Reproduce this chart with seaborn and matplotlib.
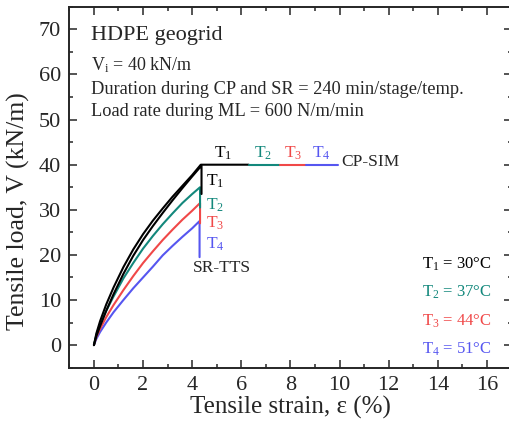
import matplotlib
matplotlib.use("Agg")
import matplotlib.pyplot as plt
import seaborn as sns
import pandas as pd
from matplotlib.ticker import MultipleLocator

# ---- data -------------------------------------------------------------
temps = ["T1", "T2", "T3", "T4"]
temp_values = [30, 37, 44, 51]
colors = ["#000000", "#13887c", "#f04848", "#5656f0"]

# CP-SIM: loading at T1 up to V_i, then creep holds at each temperature
cp_strain = [0.0, 0.1, 0.25, 0.5, 0.8, 1.2, 1.6, 2.0, 2.4, 2.8, 3.2, 3.6, 4.0, 4.35, 6.3]
cp_load = [0.0, 2.6, 5.3, 9.0, 12.8, 17.3, 21.2, 24.6, 27.6, 30.3, 32.9, 35.3, 37.7, 40.0, 40.0]
hold_strain_edges = [6.3, 7.56, 8.65, 9.93]
hold_load = 40.0

# SR-TTS: loading at each temperature followed by stress relaxation
sr_strain_t1 = [0.0, 0.1, 0.25, 0.5, 0.8, 1.2, 1.6, 2.0, 2.4, 2.8, 3.2, 3.6, 4.0, 4.38, 4.38]
sr_load_t1 = [0.0, 2.0, 4.2, 7.6, 11.3, 15.8, 19.8, 23.3, 26.4, 29.3, 32.1, 34.8, 37.4, 39.8, 33.5]
sr_strain_t2 = [0.0, 0.1, 0.25, 0.5, 0.8, 1.2, 1.6, 2.0, 2.4, 2.8, 3.2, 3.6, 4.0, 4.32, 4.32]
sr_load_t2 = [0.0, 2.3, 4.6, 7.6, 10.8, 14.8, 18.2, 21.4, 24.2, 26.8, 29.2, 31.5, 33.5, 35.0, 30.5]
sr_strain_t3 = [0.0, 0.1, 0.25, 0.5, 0.8, 1.2, 1.6, 2.0, 2.4, 2.8, 3.2, 3.6, 4.0, 4.32, 4.32]
sr_load_t3 = [0.0, 1.8, 3.6, 6.2, 8.9, 12.2, 15.3, 18.2, 20.8, 23.3, 25.6, 27.8, 29.8, 31.5, 27.0]
sr_strain_t4 = [0.0, 0.1, 0.25, 0.5, 0.8, 1.2, 1.6, 2.0, 2.4, 2.8, 3.2, 3.6, 4.0, 4.3, 4.3]
sr_load_t4 = [0.0, 1.4, 2.9, 5.0, 7.3, 10.0, 12.6, 15.0, 17.4, 19.9, 22.0, 24.0, 25.9, 27.5, 19.5]

# ---- style ------------------------------------------------------------
sns.set_theme(style="ticks")
plt.rcParams["font.family"] = ["Liberation Serif", "DejaVu Serif"]
plt.rcParams["mathtext.fontset"] = "custom"
plt.rcParams["mathtext.rm"] = "Liberation Serif"
plt.rcParams["mathtext.it"] = "Liberation Serif:italic"
plt.rcParams["axes.linewidth"] = 1.4

fig = plt.figure(figsize=(5.10, 4.28), dpi=100)
ax = fig.add_axes([0.136, 0.141, 0.867, 0.843])

lw = 1.5

def draw(xs, ys, color):
    df = pd.DataFrame({"x": xs, "y": ys})
    sns.lineplot(data=df, x="x", y="y", ax=ax, color=color, lw=lw,
                 sort=False, estimator=None)

draw(sr_strain_t4, sr_load_t4, colors[3])
draw(sr_strain_t3, sr_load_t3, colors[2])
draw(sr_strain_t2, sr_load_t2, colors[1])
draw(sr_strain_t1, sr_load_t1, colors[0])
draw(cp_strain, cp_load, colors[0])
for i in range(3):
    draw(hold_strain_edges[i:i + 2], [hold_load, hold_load], colors[i + 1])

# ---- annotations ------------------------------------------------------
def sub(t):
    return "T$_\\mathregular{%s}$" % t[1:]

fs_lab = 12.5
cp_label_x = [5.27, 6.9, 8.1, 9.25]
for t, c, x in zip(temps, colors, cp_label_x):
    ax.text(x, 42.6, sub(t), color=c, fontsize=fs_lab, ha="center", va="center")
ax.text(10.05, 40.6, "CP-SIM", fontsize=12.5, ha="left", va="center")

sr_label_y = [36.4, 30.9, 26.9, 22.3]
for t, c, y in zip(temps, colors, sr_label_y):
    ax.text(4.55, y, sub(t), color=c, fontsize=fs_lab, ha="left", va="center")
ax.text(5.2, 17.2, "SR-TTS", fontsize=12.5, ha="center", va="center")

legend_y = [17.9, 11.6, 5.2, -1.0]
for t, c, v, y in zip(temps, colors, temp_values, legend_y):
    ax.text(16.2, y, sub(t) + " = %d°C" % v, color=c, fontsize=12,
            ha="right", va="center")

ax.text(-0.1, 68.6, "HDPE geogrid", fontsize=16, ha="left", va="center")
ax.text(-0.1, 62.0, "V$_\\mathregular{i}$ = 40 kN/m", fontsize=13, ha="left", va="center")
ax.text(-0.1, 56.6, "Duration during CP and SR = 240 min/stage/temp.", fontsize=13.2,
        ha="left", va="center")
ax.text(-0.1, 51.7, "Load rate during ML = 600 N/m/min", fontsize=13.2,
        ha="left", va="center")

# ---- axes -------------------------------------------------------------
ax.set_xlim(-1, 17)
ax.set_ylim(-5, 75)
ax.xaxis.set_major_locator(MultipleLocator(2))
ax.xaxis.set_minor_locator(MultipleLocator(1))
ax.yaxis.set_major_locator(MultipleLocator(10))
ax.yaxis.set_minor_locator(MultipleLocator(5))
ax.tick_params(which="both", direction="in", top=True, right=True, width=1.1)
ax.tick_params(which="major", length=6, labelsize=16, pad=6)
ax.tick_params(which="minor", length=3)
ax.set_xlabel("Tensile strain, ε (%)", fontsize=18, labelpad=1)
ax.set_ylabel("Tensile load, V (kN/m)", fontsize=18.5)
ax.yaxis.set_label_coords(-0.09, 0.434)

fig.savefig("out.png", dpi=100)
